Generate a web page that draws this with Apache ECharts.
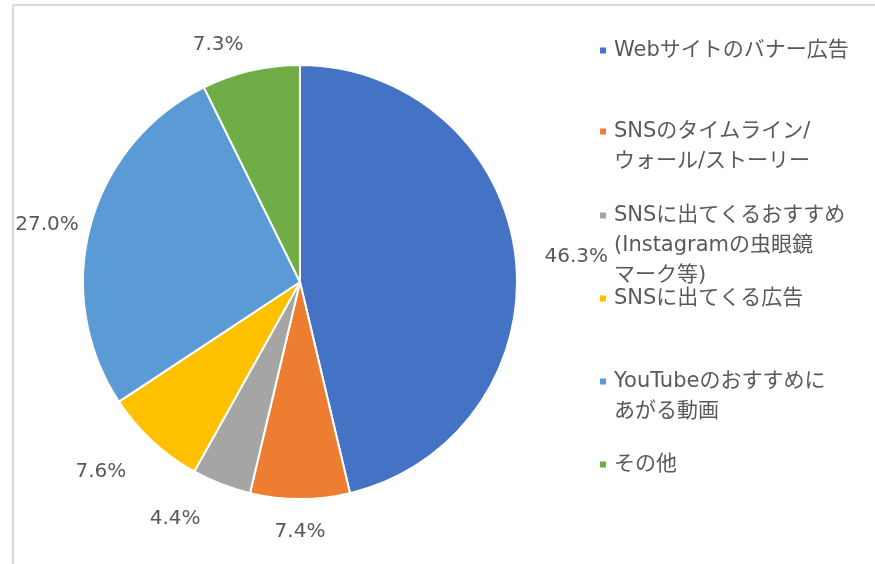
<!DOCTYPE html>
<html>
<head>
<meta charset="utf-8">
<script src="https://cdn.jsdelivr.net/npm/echarts@6/dist/echarts.min.js"></script>
<style>
  html, body { margin: 0; padding: 0; background: #fff; }
  #chart { width: 875px; height: 564px; }
</style>
</head>
<body>
<div id="chart"></div>
<script>
// data
var categories = [
  'Webサイトのバナー広告',
  'SNSのタイムライン/ウォール/ストーリー',
  'SNSに出てくるおすすめ（Instagramの虫眼鏡マーク等）',
  'SNSに出てくる広告',
  'YouTubeのおすすめにあがる動画',
  'その他'
]
var legendLines = [
  ['Webサイトのバナー広告'],
  ['SNSのタイムライン/', 'ウォール/ストーリー'],
  ['SNSに出てくるおすすめ', '(Instagramの虫眼鏡', 'マーク等)'],
  ['SNSに出てくる広告'],
  ['YouTubeのおすすめに', 'あがる動画'],
  ['その他']
]
var values = [46.3, 7.4, 4.4, 7.6, 27.0, 7.3]
var colors = ['#4472C4', '#ED7D31', '#A5A5A5', '#FFC000', '#5B9BD5', '#70AD47']

// label nudges (px), like the spread-out labels of the original
var labelOffsets = [[14, 5], [-5, -9], [-26, -5], [-18, 0], [2, 10], [-18, 15]]

var textColor = '#595959'
var fontFamily = 'Verdana, "DejaVu Sans", "Noto Sans CJK JP", sans-serif'
var legendTops = [40, 121, 205, 288, 371, 454]

var myChart = echarts.init(document.getElementById('chart'))

var legends = categories.map(function(name, i) {
  return {
    left: 595,
    top: legendTops[i],
    padding: 0,
    orient: 'vertical',
    selectedMode: false,
    icon: 'none',
    itemWidth: 0,
    itemHeight: 6,
    data: [name],
    formatter: function() {
      return legendLines[i].map(function(line, k) {
        return (k === 0 ? '{d| }{g| }' : '{s| }') + '{t|' + line + '}'
      }).join('\n')
    },
    textStyle: {
      rich: {
        d: { width: 6, height: 6, backgroundColor: colors[i], verticalAlign: 'middle', lineHeight: 30 },
        g: { width: 8, lineHeight: 30 },
        s: { width: 14, lineHeight: 30 },
        t: { fontSize: 21, color: textColor, fontFamily: fontFamily, lineHeight: 30, verticalAlign: 'middle' }
      }
    }
  }
})

var option = {
  backgroundColor: '#fff',
  color: colors,
  animation: false,
  legend: legends,
  graphic: [
    { type: 'line', shape: { x1: 13, y1: 5, x2: 875, y2: 5 }, style: { stroke: '#d9d9d9', lineWidth: 2 } },
    { type: 'line', shape: { x1: 13, y1: 5, x2: 13, y2: 564 }, style: { stroke: '#d9d9d9', lineWidth: 2 } }
  ],
  series: [
    {
      type: 'pie',
      center: [300, 282],
      radius: 217,
      startAngle: 90,
      clockwise: true,
      avoidLabelOverlap: false,
      itemStyle: { borderColor: '#fff', borderWidth: 2 },
      label: {
        show: true,
        position: 'outside',
        formatter: function(p) { return p.value.toFixed(1) + '%' },
        fontSize: 20,
        color: textColor,
        fontFamily: fontFamily
      },
      labelLine: { show: false, length: 42, length2: 0 },
      labelLayout: function(params) {
        var off = labelOffsets[params.dataIndex]
        return { align: 'center', verticalAlign: 'middle', dx: off[0], dy: off[1] }
      },
      emphasis: { disabled: true },
      data: categories.map(function(name, i) {
        return { name: name, value: values[i] }
      })
    }
  ]
}
myChart.setOption(option)
</script>
</body>
</html>
